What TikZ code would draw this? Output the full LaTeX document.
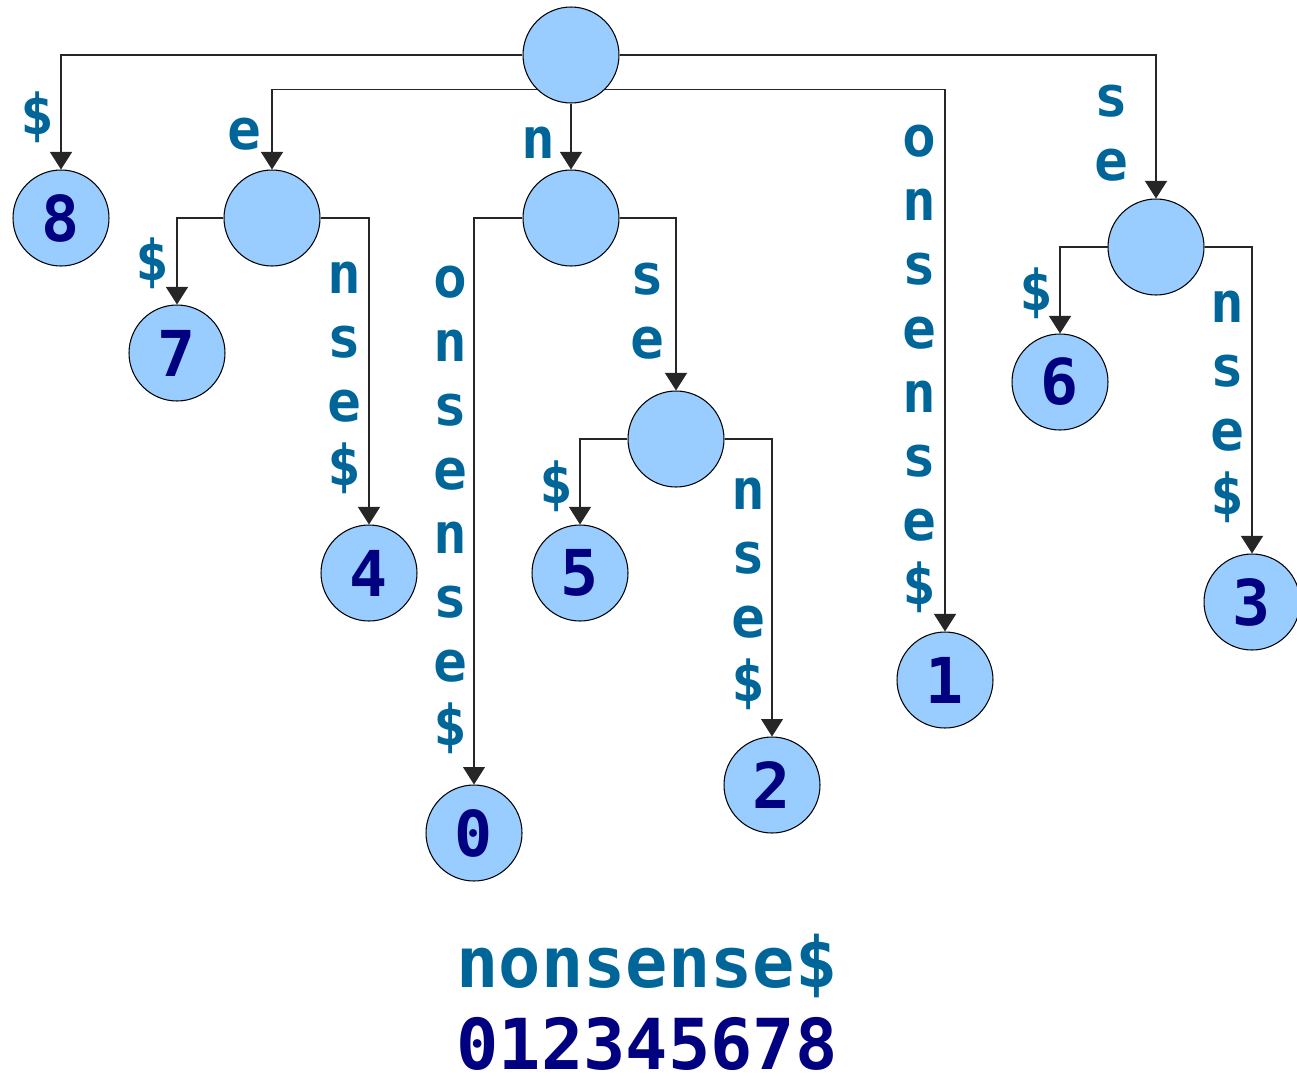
\documentclass[tikz,border=0pt]{standalone}
\usepackage{fontspec}
\setmonofont{DejaVu Sans Mono}
\usetikzlibrary{arrows.meta}
\definecolor{lab}{RGB}{0,102,153}
\definecolor{num}{RGB}{0,0,128}
\definecolor{fillb}{RGB}{153,204,255}
\tikzset{
  tnode/.style={circle,draw=black,line width=0.6pt,fill=fillb,minimum size=1.92cm,inner sep=0pt,
    text=num,font=\ttfamily\bfseries\fontsize{36}{36}\selectfont},
  edge/.style={draw=black!85,line width=0.6pt,-{Triangle[width=0.44cm,length=0.35cm]}},
  elab/.style={text=lab,inner sep=0pt,align=center,font=\ttfamily\bfseries\fontsize{32}{36.4}\selectfont},
}
\begin{document}
\begin{tikzpicture}[x=0.02cm,y=-0.02cm]
\useasboundingbox (0,0) rectangle (1297,1079);
\node[tnode] (root) at (571,55) {};
\node[tnode] (n8) at (61,218) {8};
\node[tnode] (ne) at (272,218) {};
\node[tnode] (nn) at (571,218) {};
\node[tnode] (nse) at (1156,247) {};
\node[tnode] (n7) at (177,353) {7};
\node[tnode] (n4) at (369,573) {4};
\node[tnode] (n0) at (474,833) {0};
\node[tnode] (nnse) at (676,439) {};
\node[tnode] (n5) at (580,573) {5};
\node[tnode] (n2) at (772,785) {2};
\node[tnode] (n1) at (945,680) {1};
\node[tnode] (n6) at (1060,382) {6};
\node[tnode] (n3) at (1252,602) {3};

\draw[edge] (root.west) -| (n8.north);
\draw[edge] (root.south west) -| (ne.north);
\draw[edge] (root.south) -- (nn.north);
\draw[edge] (root.south east) -| (n1.north);
\draw[edge] (root.east) -| (nse.north);
\draw[edge] (ne.west) -| (n7.north);
\draw[edge] (ne.east) -| (n4.north);
\draw[edge] (nn.west) -| (n0.north);
\draw[edge] (nn.east) -| (nnse.north);
\draw[edge] (nnse.west) -| (n5.north);
\draw[edge] (nnse.east) -| (n2.north);
\draw[edge] (nse.west) -| (n6.north);
\draw[edge] (nse.east) -| (n3.north);

\node[elab] (l8) at (37,117) {\$};
\node[elab] (le) at (244,134) {e};
\node[elab] (ln) at (538,143) {n};
\node[elab] (l1) at (919,369) {o\\n\\s\\e\\n\\s\\e\\\$};
\node[elab] (lse) at (1111,133) {s\\e};
\node[elab] (l7) at (152,263) {\$};
\node[elab] (l4) at (344,378) {n\\s\\e\\\$};
\node[elab] (l0) at (450,510) {o\\n\\s\\e\\n\\s\\e\\\$};
\node[elab] (lnse) at (647,311) {s\\e};
\node[elab] (l5) at (556,486) {\$};
\node[elab] (l2) at (748,594) {n\\s\\e\\\$};
\node[elab] (l6) at (1036,293) {\$};
\node[elab] (l3) at (1227,407) {n\\s\\e\\\$};

\node[text=lab,inner sep=0pt,font=\ttfamily\bfseries\fontsize{40}{40}\selectfont] (word) at (647,966) {nonsense\$};
\node[text=num,inner sep=0pt,font=\ttfamily\bfseries\fontsize{40}{40}\selectfont] (idx) at (647,1044) {012345678};
\end{tikzpicture}
\end{document}
